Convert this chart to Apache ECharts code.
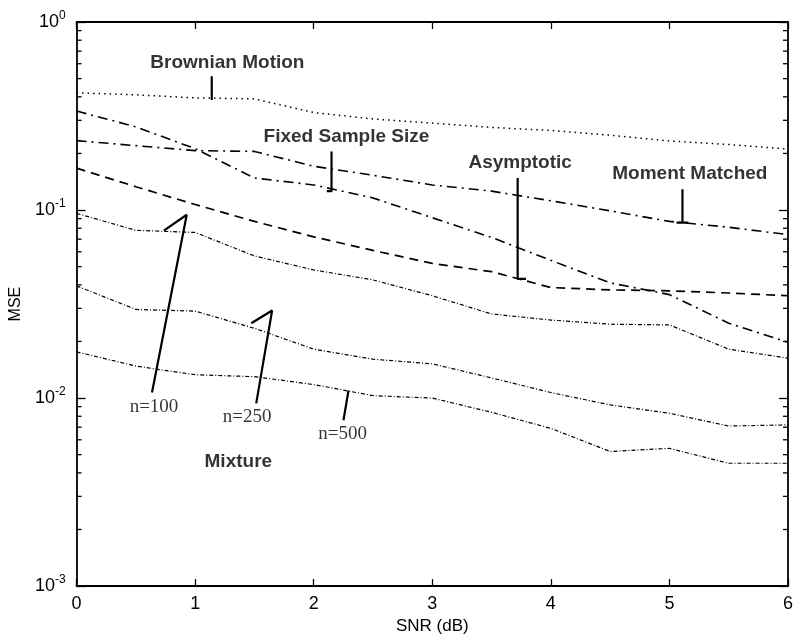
<!DOCTYPE html>
<html>
<head>
<meta charset="utf-8">
<script src="https://cdn.jsdelivr.net/npm/echarts@6/dist/echarts.min.js"></script>
<style>html,body{margin:0;padding:0;background:#fff}#c{width:796px;height:640px}</style>
</head>
<body>
<div id="c"></div>
<script>
// ---- data ----
const snr = [0, 0.5, 1, 1.5, 2, 2.5, 3, 3.5, 4, 4.5, 5, 5.5, 6];
const brownian = [0.42, 0.41, 0.395, 0.39, 0.33, 0.305, 0.29, 0.275, 0.265, 0.25, 0.233, 0.223, 0.211];
const fixedSample = [0.336, 0.277, 0.212, 0.148, 0.136, 0.116, 0.091, 0.0715, 0.054, 0.041, 0.0355, 0.025, 0.0198];
const momentMatched = [0.234, 0.22, 0.207, 0.205, 0.171, 0.153, 0.136, 0.126, 0.112, 0.099, 0.087, 0.081, 0.074];
const asymptotic = [0.167, 0.133, 0.107, 0.087, 0.072, 0.061, 0.052, 0.047, 0.0387, 0.0376, 0.0372, 0.0362, 0.035];
const mix100 = [0.096, 0.078, 0.076, 0.057, 0.048, 0.0425, 0.035, 0.028, 0.026, 0.0247, 0.0245, 0.0182, 0.0163];
const mix250 = [0.0395, 0.0296, 0.029, 0.0235, 0.0182, 0.0161, 0.0152, 0.0128, 0.0107, 0.0092, 0.0083, 0.0071, 0.0072];
const mix500 = [0.0176, 0.0148, 0.0133, 0.013, 0.0118, 0.0103, 0.0100, 0.0084, 0.0069, 0.0052, 0.0054, 0.0045, 0.0045];
const xTicks = [0, 1, 2, 3, 4, 5, 6];
const yDecades = [0.001, 0.01, 0.1, 1];
const yMinorTicks = [];
for (let d = 0; d < 3; d++) for (let m = 2; m <= 9; m++) yMinorTicks.push(m * yDecades[d]);

// annotation text (data coordinates)
const boldLabels = [
  [1.272, 0.609, 'Brownian Motion'],
  [2.276, 0.246, 'Fixed Sample Size'],
  [3.741, 0.179, 'Asymptotic'],
  [5.172, 0.155, 'Moment Matched'],
  [1.364, 0.00459, 'Mixture']
];
const serifLabels = [
  [0.653, 0.00893, 'n=100'],
  [1.439, 0.00791, 'n=250'],
  [2.243, 0.00644, 'n=500']
];
// pointer polylines (data coordinates)
const pointers = [
  [[1.14, 0.514], [1.14, 0.385]],
  [[2.15, 0.205], [2.15, 0.126], [2.11, 0.126]],
  [[3.72, 0.148], [3.72, 0.043], [3.79, 0.043]],
  [[5.11, 0.129], [5.11, 0.0858], [5.06, 0.0858], [5.16, 0.0858]],
  [[0.736, 0.0778], [0.929, 0.0944], [0.636, 0.0107]],
  [[1.473, 0.0250], [1.649, 0.0292], [1.515, 0.00937]],
  [[2.293, 0.01096], [2.251, 0.00762]]
];

const pair = arr => snr.map((x, i) => [x, arr[i]]);
const lineSeries = (data, dash, width, color) => ({
  type: 'line', data: pair(data), symbol: 'none', animation: false, z: 3,
  lineStyle: { color: color || '#000', width: width, type: dash }
});

const chart = echarts.init(document.getElementById('c'), null, { renderer: 'canvas' });
const series = [
  lineSeries(brownian, [1.5, 4], 1.5),
  lineSeries(fixedSample, [10, 5, 2, 5], 1.6),
  lineSeries(momentMatched, [10, 5, 2, 5], 1.6),
  lineSeries(asymptotic, [9, 6], 1.7),
  lineSeries(mix100, [4, 2, 1, 2], 1.2, '#000'),
  lineSeries(mix250, [4, 2, 1, 2], 1.2, '#000'),
  lineSeries(mix500, [4, 2, 1, 2], 1.2, '#000')
];
pointers.forEach(p => series.push({
  type: 'line', data: p, symbol: 'none', animation: false, z: 4,
  lineStyle: { color: '#000', width: 2.2, type: 'solid' }
}));
const labelBase = { show: true, position: [0, 0], align: 'center', verticalAlign: 'middle',
  formatter: p => p.name, color: '#000', textBorderWidth: 0 };
series.push({
  type: 'scatter', symbolSize: 0, animation: false, z: 5, silent: true,
  data: boldLabels.map(d => ({ value: [d[0], d[1]], name: d[2] })),
  label: Object.assign({}, labelBase, {
    fontFamily: 'Liberation Sans, Arial, sans-serif', fontWeight: 'bold', fontSize: 19 })
});
series.push({
  type: 'scatter', symbolSize: 0, animation: false, z: 5, silent: true,
  data: serifLabels.map(d => ({ value: [d[0], d[1]], name: d[2] })),
  label: Object.assign({}, labelBase, {
    fontFamily: 'Liberation Serif, Times New Roman, serif', fontSize: 19 })
});
series.push({
  type: 'custom', animation: false, z: 6, clip: false, silent: true,
  data: yMinorTicks.map(v => [0, v]),
  renderItem: (params, api) => {
    const v = api.value(1);
    const a = api.coord([0, v]);
    const b = api.coord([6, v]);
    const st = { stroke: '#000', lineWidth: 1.3 };
    return { type: 'group', children: [
      { type: 'line', shape: { x1: a[0], y1: a[1], x2: a[0] + 5, y2: a[1] }, style: st },
      { type: 'line', shape: { x1: b[0], y1: b[1], x2: b[0] - 5, y2: b[1] }, style: st }
    ] };
  }
});

const axisLine = { show: true, onZero: false, lineStyle: { color: '#000', width: 1.8 } };
const sans = 'Liberation Sans, Arial, sans-serif';
chart.setOption({
  backgroundColor: '#fff',
  animation: false,
  grid: { left: 75, right: 4, top: 22, bottom: 47 },
  xAxis: [
    { type: 'value', min: 0, max: 6, interval: 1, position: 'bottom',
      name: 'SNR (dB)', nameLocation: 'middle', nameGap: 30,
      nameTextStyle: { fontFamily: sans, fontSize: 17, color: '#000' },
      axisLine: axisLine,
      axisTick: { show: true, inside: true, length: 7, lineStyle: { color: '#000', width: 1.3 } },
      axisLabel: { margin: 9, fontFamily: sans, fontSize: 18, color: '#000',
        formatter: v => xTicks.indexOf(v) >= 0 ? String(v) : '' },
      splitLine: { show: false } },
    { type: 'value', min: 0, max: 6, interval: 1, position: 'top',
      axisLine: axisLine,
      axisTick: { show: true, inside: true, length: 7, lineStyle: { color: '#000', width: 1.3 } },
      axisLabel: { show: false }, splitLine: { show: false } }
  ],
  yAxis: [
    { type: 'log', logBase: 10, min: 0.001, max: 1, position: 'left',
      name: 'MSE', nameLocation: 'middle', nameGap: 48,
      nameTextStyle: { fontFamily: sans, fontSize: 16, color: '#000' },
      axisLine: axisLine,
      axisTick: { show: true, inside: true, length: 9, lineStyle: { color: '#000', width: 1.3 } },
      axisLabel: { margin: 11, color: '#000',
        formatter: v => {
          const e = Math.round(Math.log10(v));
          return '{b|10}{s|' + String(e) + '}';
        },
        rich: {
          b: { fontFamily: sans, fontSize: 18, color: '#000', lineHeight: 24 },
          s: { fontFamily: sans, fontSize: 12, color: '#000', verticalAlign: 'bottom', padding: [0, 0, 12, 0], lineHeight: 24 }
        } },
      splitLine: { show: false } },
    { type: 'log', logBase: 10, min: 0.001, max: 1, position: 'right',
      axisLine: axisLine,
      axisTick: { show: true, inside: true, length: 9, lineStyle: { color: '#000', width: 1.3 } },
      axisLabel: { show: false }, splitLine: { show: false } }
  ],
  series: series
});
</script>
</body>
</html>
